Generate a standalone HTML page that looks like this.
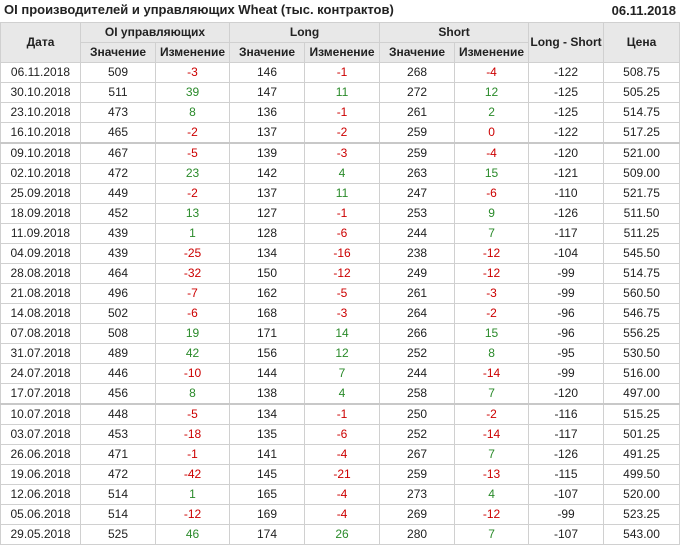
<!DOCTYPE html>
<html><head><meta charset="utf-8"><style>
body{margin:0;width:680px;height:548px;background:#fff;font-family:"Liberation Sans",Arial,sans-serif;color:#222;position:relative;overflow:hidden}
.t{position:absolute;top:2px;left:4px;font-size:13px;font-weight:bold}
.d{position:absolute;top:3px;right:4px;font-size:13px;font-weight:bold}
table{position:absolute;top:22px;left:0;width:680px;border-collapse:collapse;table-layout:fixed;font-size:12px}
td,th{border:1px solid #d0d0d0;text-align:center;padding:0;height:19px;line-height:19px;white-space:nowrap;overflow:hidden}
th{background:#e8e8e8;font-weight:bold;color:#222}
tr.s td{border-top:2px solid #c8c8c8}
.r{color:#c00}.g{color:#2a8a2a}
</style></head><body>
<div class="t">OI производителей и управляющих Wheat (тыс. контрактов)</div>
<div class="d">06.11.2018</div>
<table>
<colgroup><col style="width:80px"><col style="width:75px"><col style="width:74px"><col style="width:75px"><col style="width:75px"><col style="width:75px"><col style="width:74px"><col style="width:75px"><col style="width:76px"></colgroup>
<tr><th rowspan="2">Дата</th><th colspan="2">OI управляющих</th><th colspan="2">Long</th><th colspan="2">Short</th><th rowspan="2">Long - Short</th><th rowspan="2">Цена</th></tr>
<tr><th>Значение</th><th>Изменение</th><th>Значение</th><th>Изменение</th><th>Значение</th><th>Изменение</th></tr>
<tr><td>06.11.2018</td><td>509</td><td class="r">-3</td><td>146</td><td class="r">-1</td><td>268</td><td class="r">-4</td><td>-122</td><td>508.75</td></tr>
<tr><td>30.10.2018</td><td>511</td><td class="g">39</td><td>147</td><td class="g">11</td><td>272</td><td class="g">12</td><td>-125</td><td>505.25</td></tr>
<tr><td>23.10.2018</td><td>473</td><td class="g">8</td><td>136</td><td class="r">-1</td><td>261</td><td class="g">2</td><td>-125</td><td>514.75</td></tr>
<tr><td>16.10.2018</td><td>465</td><td class="r">-2</td><td>137</td><td class="r">-2</td><td>259</td><td class="r">0</td><td>-122</td><td>517.25</td></tr>
<tr class="s"><td>09.10.2018</td><td>467</td><td class="r">-5</td><td>139</td><td class="r">-3</td><td>259</td><td class="r">-4</td><td>-120</td><td>521.00</td></tr>
<tr><td>02.10.2018</td><td>472</td><td class="g">23</td><td>142</td><td class="g">4</td><td>263</td><td class="g">15</td><td>-121</td><td>509.00</td></tr>
<tr><td>25.09.2018</td><td>449</td><td class="r">-2</td><td>137</td><td class="g">11</td><td>247</td><td class="r">-6</td><td>-110</td><td>521.75</td></tr>
<tr><td>18.09.2018</td><td>452</td><td class="g">13</td><td>127</td><td class="r">-1</td><td>253</td><td class="g">9</td><td>-126</td><td>511.50</td></tr>
<tr><td>11.09.2018</td><td>439</td><td class="g">1</td><td>128</td><td class="r">-6</td><td>244</td><td class="g">7</td><td>-117</td><td>511.25</td></tr>
<tr><td>04.09.2018</td><td>439</td><td class="r">-25</td><td>134</td><td class="r">-16</td><td>238</td><td class="r">-12</td><td>-104</td><td>545.50</td></tr>
<tr><td>28.08.2018</td><td>464</td><td class="r">-32</td><td>150</td><td class="r">-12</td><td>249</td><td class="r">-12</td><td>-99</td><td>514.75</td></tr>
<tr><td>21.08.2018</td><td>496</td><td class="r">-7</td><td>162</td><td class="r">-5</td><td>261</td><td class="r">-3</td><td>-99</td><td>560.50</td></tr>
<tr><td>14.08.2018</td><td>502</td><td class="r">-6</td><td>168</td><td class="r">-3</td><td>264</td><td class="r">-2</td><td>-96</td><td>546.75</td></tr>
<tr><td>07.08.2018</td><td>508</td><td class="g">19</td><td>171</td><td class="g">14</td><td>266</td><td class="g">15</td><td>-96</td><td>556.25</td></tr>
<tr><td>31.07.2018</td><td>489</td><td class="g">42</td><td>156</td><td class="g">12</td><td>252</td><td class="g">8</td><td>-95</td><td>530.50</td></tr>
<tr><td>24.07.2018</td><td>446</td><td class="r">-10</td><td>144</td><td class="g">7</td><td>244</td><td class="r">-14</td><td>-99</td><td>516.00</td></tr>
<tr><td>17.07.2018</td><td>456</td><td class="g">8</td><td>138</td><td class="g">4</td><td>258</td><td class="g">7</td><td>-120</td><td>497.00</td></tr>
<tr class="s"><td>10.07.2018</td><td>448</td><td class="r">-5</td><td>134</td><td class="r">-1</td><td>250</td><td class="r">-2</td><td>-116</td><td>515.25</td></tr>
<tr><td>03.07.2018</td><td>453</td><td class="r">-18</td><td>135</td><td class="r">-6</td><td>252</td><td class="r">-14</td><td>-117</td><td>501.25</td></tr>
<tr><td>26.06.2018</td><td>471</td><td class="r">-1</td><td>141</td><td class="r">-4</td><td>267</td><td class="g">7</td><td>-126</td><td>491.25</td></tr>
<tr><td>19.06.2018</td><td>472</td><td class="r">-42</td><td>145</td><td class="r">-21</td><td>259</td><td class="r">-13</td><td>-115</td><td>499.50</td></tr>
<tr><td>12.06.2018</td><td>514</td><td class="g">1</td><td>165</td><td class="r">-4</td><td>273</td><td class="g">4</td><td>-107</td><td>520.00</td></tr>
<tr><td>05.06.2018</td><td>514</td><td class="r">-12</td><td>169</td><td class="r">-4</td><td>269</td><td class="r">-12</td><td>-99</td><td>523.25</td></tr>
<tr><td>29.05.2018</td><td>525</td><td class="g">46</td><td>174</td><td class="g">26</td><td>280</td><td class="g">7</td><td>-107</td><td>543.00</td></tr>
</table>
</body></html>
